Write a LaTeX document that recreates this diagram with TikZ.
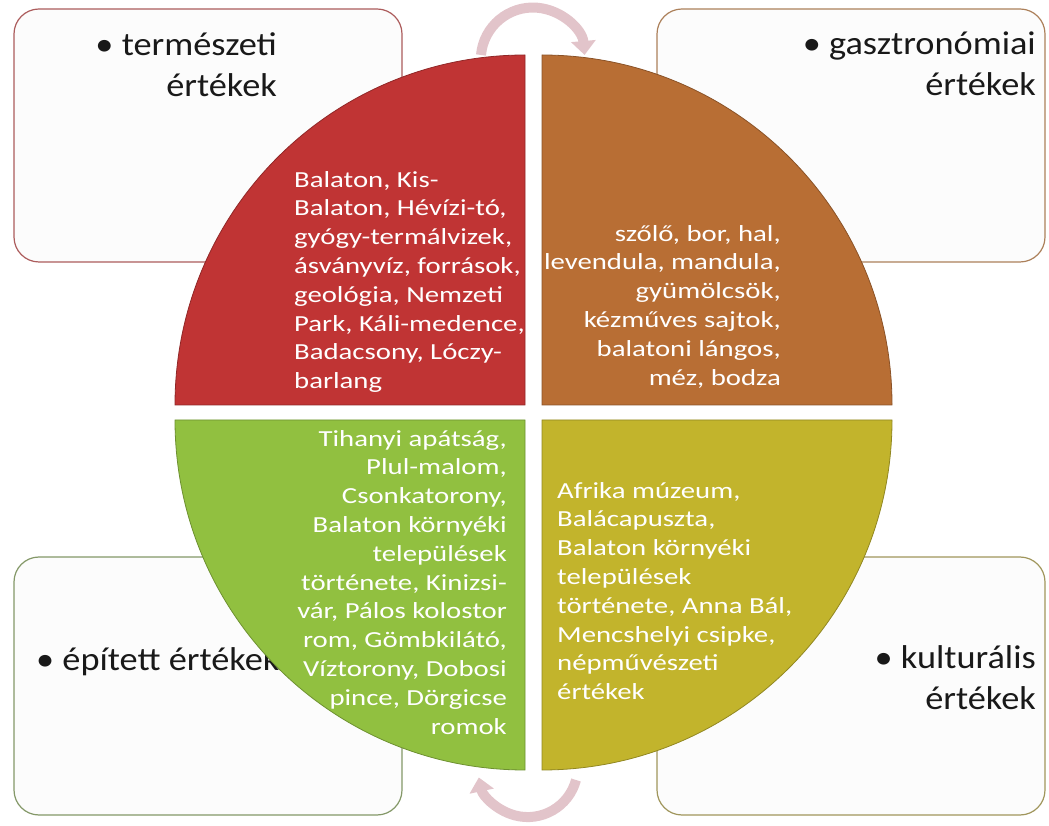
\documentclass[tikz,border=0pt]{standalone}
\usepackage{fontspec}
\setmainfont{Carlito}
\newfontfamily\boxfont[FakeStretch=1.1]{Carlito}
\newfontfamily\quadfont[FakeStretch=1.25]{Carlito}
\usetikzlibrary{arrows.meta}
\usetikzlibrary{positioning}

\definecolor{quadred}{RGB}{192,52,52}
\definecolor{quadorange}{RGB}{184,110,52}
\definecolor{quadgreen}{RGB}{145,192,64}
\definecolor{quadyellow}{RGB}{194,180,44}
\definecolor{edgered}{RGB}{172,92,92}
\definecolor{edgeorange}{RGB}{172,128,90}
\definecolor{edgegreen}{RGB}{132,152,104}
\definecolor{edgeyellow}{RGB}{160,150,92}
\definecolor{boxwhite}{RGB}{252,252,252}
\definecolor{boxtext}{RGB}{25,25,25}
\definecolor{arrowpink}{RGB}{226,196,202}

\tikzset{
  valuebox/.style={rounded corners=25pt, line width=1.2pt, fill=boxwhite},
  quadrant/.style={line width=0.8pt},
  boxlabel/.style={font=\boxfont\fontsize{33}{41}\selectfont, text=boxtext, inner sep=0pt},
  quadlabel/.style={font=\quadfont\fontsize{23}{28.8}\selectfont, text=white, inner sep=0pt},
  cyclearrow/.style={draw=arrowpink, line width=10pt, -{Triangle[width=24pt,length=14pt]}}
}

\begin{document}
\begin{tikzpicture}[x=1pt,y=1pt]
\useasboundingbox (0,0) rectangle (1049,825);

% corner boxes
\draw[valuebox,draw=edgered] (14,563) rectangle (402,816);
\draw[valuebox,draw=edgeorange] (657,563) rectangle (1045,816);
\draw[valuebox,draw=edgegreen] (14,10) rectangle (402,268);
\draw[valuebox,draw=edgeyellow] (657,10) rectangle (1045,268);

\node[boxlabel,align=right,anchor=north east] (natlabel) at (277,793) {• természeti\\értékek};
\node[boxlabel,align=right,anchor=north east] (gastlabel) at (1036,793) {• gasztronómiai\\értékek};
\node[boxlabel,anchor=base west] (builtlabel) at (36,155) {• épített értékek};
\node[boxlabel,align=right,anchor=north east] (cultlabel) at (1036,180) {• kulturális\\értékek};

% quarter circles
\filldraw[quadrant,fill=quadred,draw=quadred!75!black] (525,420) -- (175,420) arc[start angle=180,end angle=90,radius=350] -- cycle;
\filldraw[quadrant,fill=quadorange,draw=quadorange!75!black] (542,420) -- (542,770) arc[start angle=90,end angle=0,radius=350] -- cycle;
\filldraw[quadrant,fill=quadgreen,draw=quadgreen!75!black] (525,405) -- (175,405) arc[start angle=180,end angle=270,radius=350] -- cycle;
\filldraw[quadrant,fill=quadyellow,draw=quadyellow!75!black] (542,405) -- (892,405) arc[start angle=0,end angle=-90,radius=350] -- cycle;

\node[quadlabel,align=left,anchor=north west] (natlist) at (294,654)
  {Balaton, Kis-\\Balaton, Hévízi-tó,\\gyógy-termálvizek,\\ásványvíz, források,\\geológia, Nemzeti\\Park, Káli-medence,\\Badacsony, Lóczy-\\barlang};
\node[quadlabel,align=right,anchor=north east] (gastlist) at (781,600)
  {szőlő, bor, hal,\\levendula, mandula,\\gyümölcsök,\\kézműves sajtok,\\balatoni lángos,\\méz, bodza};
\node[quadlabel,align=right,anchor=north east] (builtlist) at (507,395)
  {Tihanyi apátság,\\Plul-malom,\\Csonkatorony,\\Balaton környéki\\települések\\története, Kinizsi-\\vár, Pálos kolostor\\rom, Gömbkilátó,\\Víztorony, Dobosi\\pince, Dörgicse\\romok};
\node[quadlabel,align=left,anchor=north west] (cultlist) at (557,343)
  {Afrika múzeum,\\Balácapuszta,\\Balaton környéki\\települések\\története, Anna Bál,\\Mencshelyi csipke,\\népművészeti\\értékek};

% cycle arrows
\coordinate (topstart) at (481,770);
\coordinate (botstart) at (576,45);
\draw[cyclearrow] (topstart) arc[start angle=175,end angle=5,radius=52];
\draw[cyclearrow] (botstart) arc[start angle=-15,end angle=-168,radius=50];

\end{tikzpicture}
\end{document}
